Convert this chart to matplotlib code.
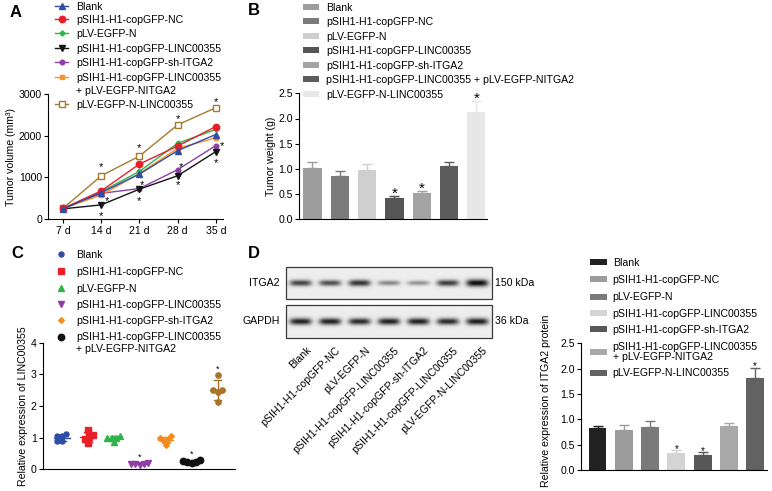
import numpy as np
import matplotlib
matplotlib.use('Agg')
import matplotlib.pyplot as plt
from matplotlib.patches import Rectangle
from matplotlib.ticker import FormatStrFormatter

plt.rcParams['font.family'] = ['Liberation Sans', 'DejaVu Sans']
FS = 7.6
plt.rcParams['font.size'] = FS

W, H = 772, 491

groups = ['Blank', 'pSIH1-H1-copGFP-NC', 'pLV-EGFP-N', 'pSIH1-H1-copGFP-LINC00355',
          'pSIH1-H1-copGFP-sh-ITGA2', 'pSIH1-H1-copGFP-LINC00355\n+ pLV-EGFP-NITGA2',
          'pLV-EGFP-N-LINC00355']

# A - tumor volume (mm3)
days = ['7 d', '14 d', '21 d', '28 d', '35 d']
vol_blank = [250, 640, 1080, 1640, 2025]
vol_nc = [260, 680, 1320, 1750, 2215]
vol_plv = [255, 660, 1145, 1815, 2145]
vol_linc = [250, 345, 720, 1040, 1615]
vol_sh = [255, 620, 735, 1185, 1760]
vol_combo = [260, 580, 1095, 1695, 1945]
vol_oe = [265, 1040, 1510, 2255, 2665]
stars_a_x = [1, 1.15, 1, 2, 2.07, 2, 3, 3.09, 3, 4, 4.16, 4]
stars_a_y = [1320, 504, 152, 1784, 904, 520, 2480, 1336, 896, 2880, 1832, 1416]

# B - tumor weight (g)
weight_mean = [1.01, 0.85, 0.97, 0.42, 0.52, 1.06, 2.13]
weight_sd = [0.12, 0.10, 0.12, 0.05, 0.05, 0.08, 0.22]
weight_star = [3, 4, 6]

# C - relative expression of LINC00355
expr_blank = [1.04, 0.88, 1.04, 1.11, 0.88]
expr_nc = [1.09, 0.83, 1.03, 1.25, 0.95]
expr_plv = [1.04, 0.85, 0.99, 1.00, 0.99]
expr_linc = [0.17, 0.15, 0.19, 0.16, 0.18]
expr_sh = [0.94, 1.04, 0.78, 0.92, 0.99]
expr_combo = [0.22, 0.28, 0.25, 0.21, 0.24]
expr_oe = [2.98, 2.49, 2.49, 2.45, 2.13]
expr_star = [3, 5, 6]

# D - western blot + ITGA2 protein
itga2_band = [0.75, 0.70, 0.82, 0.45, 0.40, 0.78, 1.0]
gapdh_band = [0.90, 0.90, 0.86, 0.90, 0.90, 0.86, 0.92]
itga2_mean = [0.82, 0.79, 0.84, 0.33, 0.30, 0.86, 1.82]
itga2_sd = [0.05, 0.10, 0.12, 0.06, 0.05, 0.07, 0.20]
itga2_star = [3, 4, 6]

fig = plt.figure(figsize=(W / 100, H / 100), dpi=100)
over = fig.add_axes([0, 0, 1, 1])
over.set_xlim(0, W)
over.set_ylim(H, 0)
over.axis('off')


def add_ax(box):
    left, top, right, bottom = box
    ax = fig.add_axes([left / W, 1 - bottom / H, (right - left) / W, (bottom - top) / H])
    ax.patch.set_visible(False)
    for s in ['top', 'right']:
        ax.spines[s].set_visible(False)
    for s in ['left', 'bottom']:
        ax.spines[s].set_linewidth(0.8)
    ax.tick_params(length=3, width=0.8, labelsize=FS, pad=1.5)
    return ax


def ylab(ax, box, text, px, yfrac=0.5):
    left, top, right, bottom = box
    ax.set_ylabel(text, fontsize=FS)
    ax.yaxis.set_label_coords((px - left) / (right - left), yfrac)


def star(ax, x, y, fs):
    ax.annotate('*', (x, y), xytext=(0, -0.57 * fs), textcoords='offset points',
                ha='center', va='baseline', fontsize=fs)


def leg_text(x, y, lab, gap):
    for j, line in enumerate(lab.split('\n')):
        over.text(x, y + 3.8 + j * gap, line, va='baseline', ha='left', fontsize=FS)


def swarm(vals, d_val, d_x):
    placed = []
    offs = np.zeros(len(vals))
    for i in np.argsort(vals, kind='stable'):
        v = vals[i]
        cands = [0.0]
        for pv, po in placed:
            dy = (v - pv) / d_val
            if abs(dy) < 1:
                dx = np.sqrt(1 - dy ** 2)
                cands += [po - dx, po + dx]
        cands.sort(key=abs)
        for c in cands:
            if all(((v - pv) / d_val) ** 2 + (c - po) ** 2 >= 0.999 for pv, po in placed):
                break
        placed.append((v, c))
        offs[i] = c * d_x
    return offs


# ---------- A ----------
boxA = (48.3, 93.7, 223, 219.3)
axA = add_ax(boxA)
xa = np.arange(len(days))
a_series = [
    (vol_oe, '#a87a2e', 's', 4.6, 'white'),
    (vol_sh, '#8e3fa3', 'o', 3.3, None),
    (vol_linc, '#151515', 'v', 3.8, None),
    (vol_combo, '#f7922a', 's', 3.3, None),
    (vol_plv, '#2fb34a', 'D', 2.6, None),
    (vol_nc, '#e8202a', 'o', 4.6, None),
    (vol_blank, '#2f4da6', '^', 4.4, None),
]
for vals, c, m, ms, mfc in a_series:
    axA.plot(xa, vals, color=c, marker=m, ms=ms, mfc=mfc if mfc else c, mec=c,
             mew=1.0, lw=1.0, clip_on=False)
axA.set_xlim(-0.39, 4.19)
axA.set_ylim(0, 3000)
axA.set_xticks(xa, days)
axA.set_yticks([0, 1000, 2000, 3000])
ylab(axA, boxA, 'Tumor volume (mm³)', 16)
for sx, sy in zip(stars_a_x, stars_a_y):
    star(axA, sx, sy, 8)

leg_a = [('#2f4da6', '^', 4.4, None), ('#e8202a', 'o', 4.6, None), ('#2fb34a', 'D', 2.6, None),
         ('#151515', 'v', 3.8, None), ('#8e3fa3', 'o', 3.3, None), ('#f7922a', 's', 3.3, None),
         ('#a87a2e', 's', 4.6, 'white')]
rows_a = [6, 19.3, 33.3, 47.7, 61.7, 76.7, 104]
for (c, m, ms, mfc), y, lab in zip(leg_a, rows_a, groups):
    over.plot([55, 61.5, 68], [y, y, y], color=c, lw=1.0, marker=m, ms=ms, markevery=[1],
              mfc=mfc if mfc else c, mec=c, mew=1.0)
    leg_text(76, y, lab, 13.3)

# ---------- B ----------
boxB = (299.3, 93.3, 486.7, 219.3)
axB = add_ax(boxB)
colors_b = ['#9d9d9d', '#7b7b7b', '#cfcfcf', '#555555', '#a3a3a3', '#5c5c5c', '#e7e7e7']
xb = np.arange(len(weight_mean))
axB.bar(xb, weight_mean, width=0.67, color=colors_b)
for i in xb:
    axB.errorbar(i, weight_mean[i], yerr=[[0], [weight_sd[i]]], fmt='none',
                 ecolor=colors_b[i], elinewidth=1.0, capsize=3.5, capthick=1.0)
for i in weight_star:
    star(axB, i, weight_mean[i] + weight_sd[i] + 0.13, 11)
axB.set_xlim(-0.48, 6.38)
axB.set_ylim(0, 2.5)
axB.set_xticks([])
axB.set_yticks(np.arange(0, 2.51, 0.5))
axB.yaxis.set_major_formatter(FormatStrFormatter('%.1f'))
ylab(axB, boxB, 'Tumor weight (g)', 276)
rows_b = [6.7, 21.2, 35.8, 50.3, 64.9, 79.4, 94]
for c, y, lab in zip(colors_b, rows_b, groups):
    over.add_patch(Rectangle((303, y - 3), 16, 6, color=c, lw=0))
    leg_text(326, y, lab.replace('\n', ' '), 0)

# ---------- C ----------
boxC = (43, 342.7, 235, 469.3)
axC = add_ax(boxC)
c_series = [
    (expr_blank, '#2f4da6', 'o', 3.6),
    (expr_nc, '#e8202a', 's', 3.8),
    (expr_plv, '#2fb34a', '^', 4.0),
    (expr_linc, '#8e3fa3', 'v', 4.0),
    (expr_sh, '#f58a1f', 'D', 2.9),
    (expr_combo, '#111111', 'o', 4.6),
    (expr_oe, '#a8742a', 'o', 3.8),
]
for i, (vals, c, m, ms) in enumerate(c_series):
    vals = np.array(vals)
    mu, sd = vals.mean(), vals.std(ddof=1)
    axC.plot([i - 0.3, i + 0.3], [mu, mu], color=c, lw=1.0, zorder=2)
    axC.plot([i, i], [mu - sd, mu + sd], color=c, lw=1.0, zorder=2)
    for e in (mu - sd, mu + sd):
        axC.plot([i - 0.15, i + 0.15], [e, e], color=c, lw=1.0, zorder=2)
    offs = swarm(vals, 0.16, 0.17)
    axC.plot(i + offs, vals, ls='none', marker=m, ms=ms, color=c, zorder=3, clip_on=False)
    if i in expr_star:
        star(axC, i, vals.max() + 0.28, 6.5)
axC.set_xlim(-0.72, 6.67)
axC.set_ylim(0, 4)
axC.set_xticks([])
axC.set_yticks([0, 1, 2, 3, 4])
ylab(axC, boxC, 'Relative expression of LINC00355', 28)
rows_c = [254.3, 271, 287.7, 304.3, 320, 336.7]
for (vals, c, m, ms), y, lab in zip(c_series[:6], rows_c, groups):
    over.plot([61], [y], ls='none', marker=m, ms=ms, color=c)
    leg_text(76, y, lab, 11.6)

# ---------- D blot ----------
blot_l, blot_r = 286, 492
blot_boxes = [(267, 299, itga2_band, 'ITGA2', '150 kDa'), (305, 338, gapdh_band, 'GAPDH', '36 kDa')]
n_lane = len(itga2_band)
lane_w = (blot_r - blot_l) / n_lane
for top, bot, band, name, kda in blot_boxes:
    bw, bh = int(blot_r - blot_l), int(bot - top)
    xx, yy = np.meshgrid(np.arange(bw) + 0.5, np.arange(bh) + 0.5)
    img = np.zeros((bh, bw))
    for k, a in enumerate(band):
        cx = (k + 0.5) * lane_w
        wy = 1.6 + 2.0 * a
        img += a * np.exp(-((xx - cx) / 11) ** 4 - ((yy - bh / 2) / wy) ** 2)
    img = 0.93 - 0.88 * np.clip(img, 0, 1)
    over.imshow(img, cmap='gray', vmin=0, vmax=1, extent=(blot_l, blot_r, bot, top),
                aspect='auto', interpolation='bilinear', zorder=1)
    over.add_patch(Rectangle((blot_l, top), blot_r - blot_l, bot - top, fill=False,
                             ec='#3a3a3a', lw=0.9, zorder=2))
    mid = (top + bot) / 2
    over.text(280, mid, name, ha='right', va='center', fontsize=FS)
    over.text(495, mid, kda, ha='left', va='center', fontsize=FS)
for k, lab in enumerate(groups):
    cx = blot_l + (k + 0.5) * lane_w
    over.text(cx + 5, 345, lab.split('\n')[0], rotation=45, rotation_mode='anchor',
              ha='right', va='top', fontsize=FS)

# ---------- D bars ----------
boxD = (581, 343.3, 767, 470)
axD = add_ax(boxD)
colors_d = ['#222222', '#9b9b9b', '#7a7a7a', '#d4d4d4', '#585858', '#a8a8a8', '#626262']
xd = np.arange(len(itga2_mean))
axD.bar(xd, itga2_mean, width=0.68, color=colors_d)
for i in xd:
    axD.errorbar(i, itga2_mean[i], yerr=[[0], [itga2_sd[i]]], fmt='none',
                 ecolor=colors_d[i], elinewidth=1.0, capsize=3.5, capthick=1.0)
for i in itga2_star:
    star(axD, i, itga2_mean[i] + itga2_sd[i] + 0.08, 7)
axD.set_xlim(-0.63, 6.45)
axD.set_ylim(0, 2.5)
axD.set_xticks([])
axD.set_yticks(np.arange(0, 2.51, 0.5))
axD.yaxis.set_major_formatter(FormatStrFormatter('%.1f'))
ylab(axD, boxD, 'Relative expression of ITGA2 protein', 551, 0.55)
rows_d = [261.7, 279.3, 296.7, 313.3, 329.3, 346.7, 372.7]
for c, y, lab in zip(colors_d, rows_d, groups):
    py = y + 5 if '\n' in lab else y
    over.add_patch(Rectangle((590, py - 3), 17, 6, color=c, lw=0))
    leg_text(612.7, y, lab, 10)

# panel letters
for lab, x, y in [('A', 16, 12), ('B', 254, 10), ('C', 17, 253), ('D', 254, 254)]:
    over.text(x, y, lab, ha='center', va='center', fontsize=12, fontweight='bold')

fig.savefig('out.png', dpi=100)
